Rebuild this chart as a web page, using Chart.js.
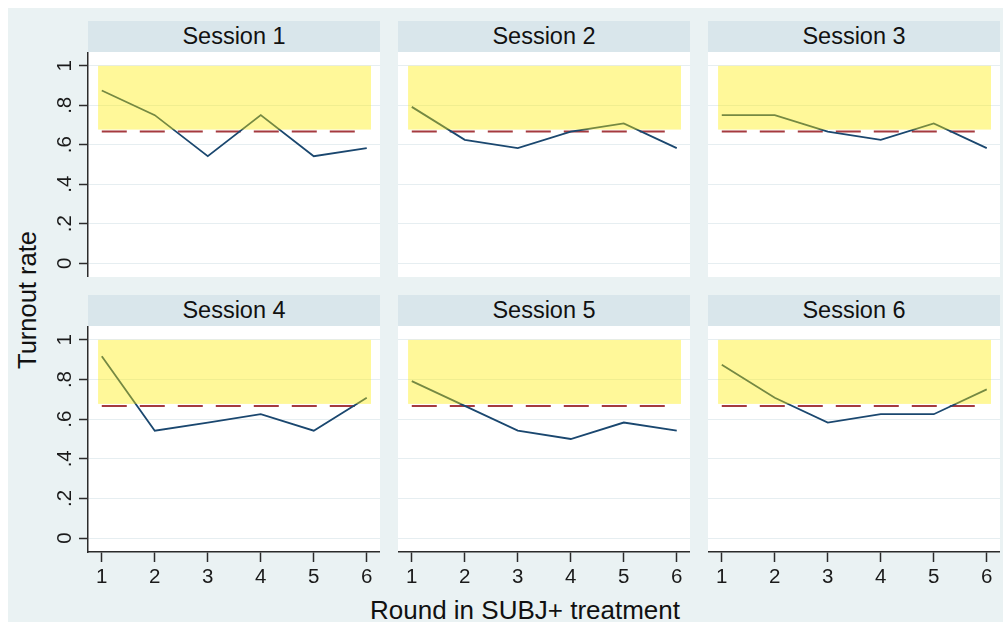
<!DOCTYPE html>
<html>
<head>
<meta charset="utf-8">
<title>Turnout rate by session</title>
<script src="https://cdn.jsdelivr.net/npm/chart.js@4.4.1/dist/chart.umd.min.js"></script>
<style>
  body { margin: 0; background: #fff; font-family: "Liberation Sans", Arial, sans-serif; }
  #frame { position: absolute; left: 8px; top: 8px; width: 995px; height: 614px; background: #eaf2f3; }
  .strip { position: absolute; width: 292px; height: 31px; line-height: 31px; background: #d9e6eb;
           text-align: center; font-size: 23.5px; color: #111; }
  canvas { position: absolute; }
  #xTitle { position: absolute; left: 325px; top: 597px; width: 400px; height: 26px; line-height: 26px;
            text-align: center; font-size: 26px; color: #111; }
  #yTitle { position: absolute; left: -73px; top: 285px; width: 200px; height: 30px; line-height: 30px;
            text-align: center; font-size: 25.5px; color: #111; transform: rotate(-90deg); }
</style>
</head>
<body>
<div id="frame"></div>
<div id="xTitle">Round in SUBJ+ treatment</div>
<div id="yTitle">Turnout rate</div>

<script>
// Rounds (x axis)
const rounds = [1, 2, 3, 4, 5, 6];

// Turnout rate per round, one array per session
const session1 = [0.875, 0.75, 0.542, 0.75, 0.542, 0.583];
const session2 = [0.792, 0.625, 0.583, 0.667, 0.708, 0.583];
const session3 = [0.75, 0.75, 0.667, 0.625, 0.708, 0.583];
const session4 = [0.917, 0.542, 0.583, 0.625, 0.542, 0.708];
const session5 = [0.792, 0.667, 0.542, 0.5, 0.583, 0.542];
const session6 = [0.875, 0.708, 0.583, 0.625, 0.625, 0.75];

const sessionNames = ["Session 1", "Session 2", "Session 3", "Session 4", "Session 5", "Session 6"];
const sessionValues = [session1, session2, session3, session4, session5, session6];

// Y axis ticks
const yTicks = [0, 0.2, 0.4, 0.6, 0.8, 1];
const yTickLabels = ["0", ".2", ".4", ".6", ".8", "1"];

// Dashed reference line and shaded band
const threshold = 2 / 3;
const bandRounds = [0.93, 6.08];
const bandRates = [0.677, 1];

const FONT = '"Liberation Sans", Arial, sans-serif';
const INK = "#2b2b2b";
Chart.defaults.font.family = FONT;

// Panel geometry
const colLeft = [88, 398, 708];
const rowTop = [52, 326];
const stripTop = [21, 295];
const plotW = 292;
const plotH = [225, 226];
const yAxisW = 80;
const xAxisH = 70;

// White plot area + yellow band drawn over the lines
const panelDecor = {
    id: "panelDecor",
    beforeDraw(chart) {
        const { ctx, chartArea: a } = chart;
        ctx.save();
        ctx.fillStyle = "#ffffff";
        ctx.fillRect(a.left, a.top, a.width, a.height);
        ctx.restore();
    },
    afterDatasetsDraw(chart) {
        const { ctx, scales: { x, y } } = chart;
        const left = x.getPixelForValue(bandRounds[0]);
        const right = x.getPixelForValue(bandRounds[1]);
        const top = y.getPixelForValue(bandRates[1]);
        const bottom = y.getPixelForValue(bandRates[0]);
        ctx.save();
        ctx.fillStyle = "rgba(255, 238, 0, 0.4)";
        ctx.fillRect(left, top, right - left, bottom - top);
        ctx.restore();
    }
};

const renderPanel = (index) => {
    const col = index % 3;
    const row = Math.floor(index / 3);
    const firstCol = col === 0;
    const bottomRow = row === 1;

    // strip title
    const strip = document.createElement("div");
    strip.className = "strip";
    strip.style.left = colLeft[col] + "px";
    strip.style.top = stripTop[row] + "px";
    strip.textContent = sessionNames[index];
    document.body.appendChild(strip);

    const canvas = document.createElement("canvas");
    const w = plotW + (firstCol ? yAxisW : 0);
    const h = plotH[row] + (bottomRow ? xAxisH : 0);
    canvas.width = w;
    canvas.height = h;
    canvas.style.left = (colLeft[col] - (firstCol ? yAxisW : 0)) + "px";
    canvas.style.top = rowTop[row] + "px";
    document.body.appendChild(canvas);

    const values = sessionValues[index];

    new Chart(canvas.getContext("2d"), {
        type: "line",
        data: {
            datasets: [
                {
                    data: rounds.map((r, i) => ({ x: r, y: values[i] })),
                    borderColor: "#1a476f",
                    borderWidth: 1.8,
                    pointRadius: 0,
                    tension: 0,
                },
                {
                    data: [
                        { x: rounds[0], y: threshold },
                        { x: rounds[rounds.length - 1], y: threshold },
                    ],
                    borderColor: "#a53a3f",
                    borderWidth: 2,
                    borderDash: [25, 13],
                    pointRadius: 0,
                },
            ],
        },
        options: {
            responsive: false,
            animation: false,
            events: [],
            layout: { padding: 0 },
            plugins: { legend: { display: false }, tooltip: { enabled: false } },
            scales: {
                x: {
                    type: "linear",
                    min: 0.74,
                    max: 6.25,
                    display: bottomRow,
                    afterBuildTicks: (s) => { s.ticks = rounds.map(v => ({ value: v })); },
                    afterFit: (s) => {
                        s.height = bottomRow ? xAxisH : 0;
                        s.paddingLeft = 0;
                        s.paddingRight = 0;
                    },
                    border: { display: true, color: INK, width: 1.5 },
                    grid: { drawOnChartArea: false, tickLength: 10, tickColor: INK, tickWidth: 1.5 },
                    ticks: {
                        padding: 3,
                        maxRotation: 0,
                        color: "#1a1a1a",
                        font: { size: 20.5 },
                        callback: (v) => String(v),
                    },
                },
                y: {
                    type: "linear",
                    min: -0.07,
                    max: 1.07,
                    afterBuildTicks: (s) => { s.ticks = yTicks.map(v => ({ value: v })); },
                    afterFit: (s) => {
                        s.width = firstCol ? yAxisW : 0;
                        s.paddingTop = 0;
                        s.paddingBottom = 0;
                    },
                    border: { display: firstCol, color: INK, width: 1.5 },
                    grid: {
                        color: "#e6eef1",
                        lineWidth: 1,
                        drawTicks: firstCol,
                        tickLength: 9,
                        tickColor: INK,
                        tickWidth: 1.5,
                    },
                    ticks: {
                        display: firstCol,
                        minRotation: 90,
                        maxRotation: 90,
                        crossAlign: "center",
                        padding: 5,
                        color: "#1a1a1a",
                        font: { size: 20.5 },
                        callback: (v) => yTickLabels[yTicks.indexOf(v)],
                    },
                },
            },
        },
        plugins: [panelDecor],
    });
};

sessionNames.forEach((_, i) => renderPanel(i));
</script>
</body>
</html>
